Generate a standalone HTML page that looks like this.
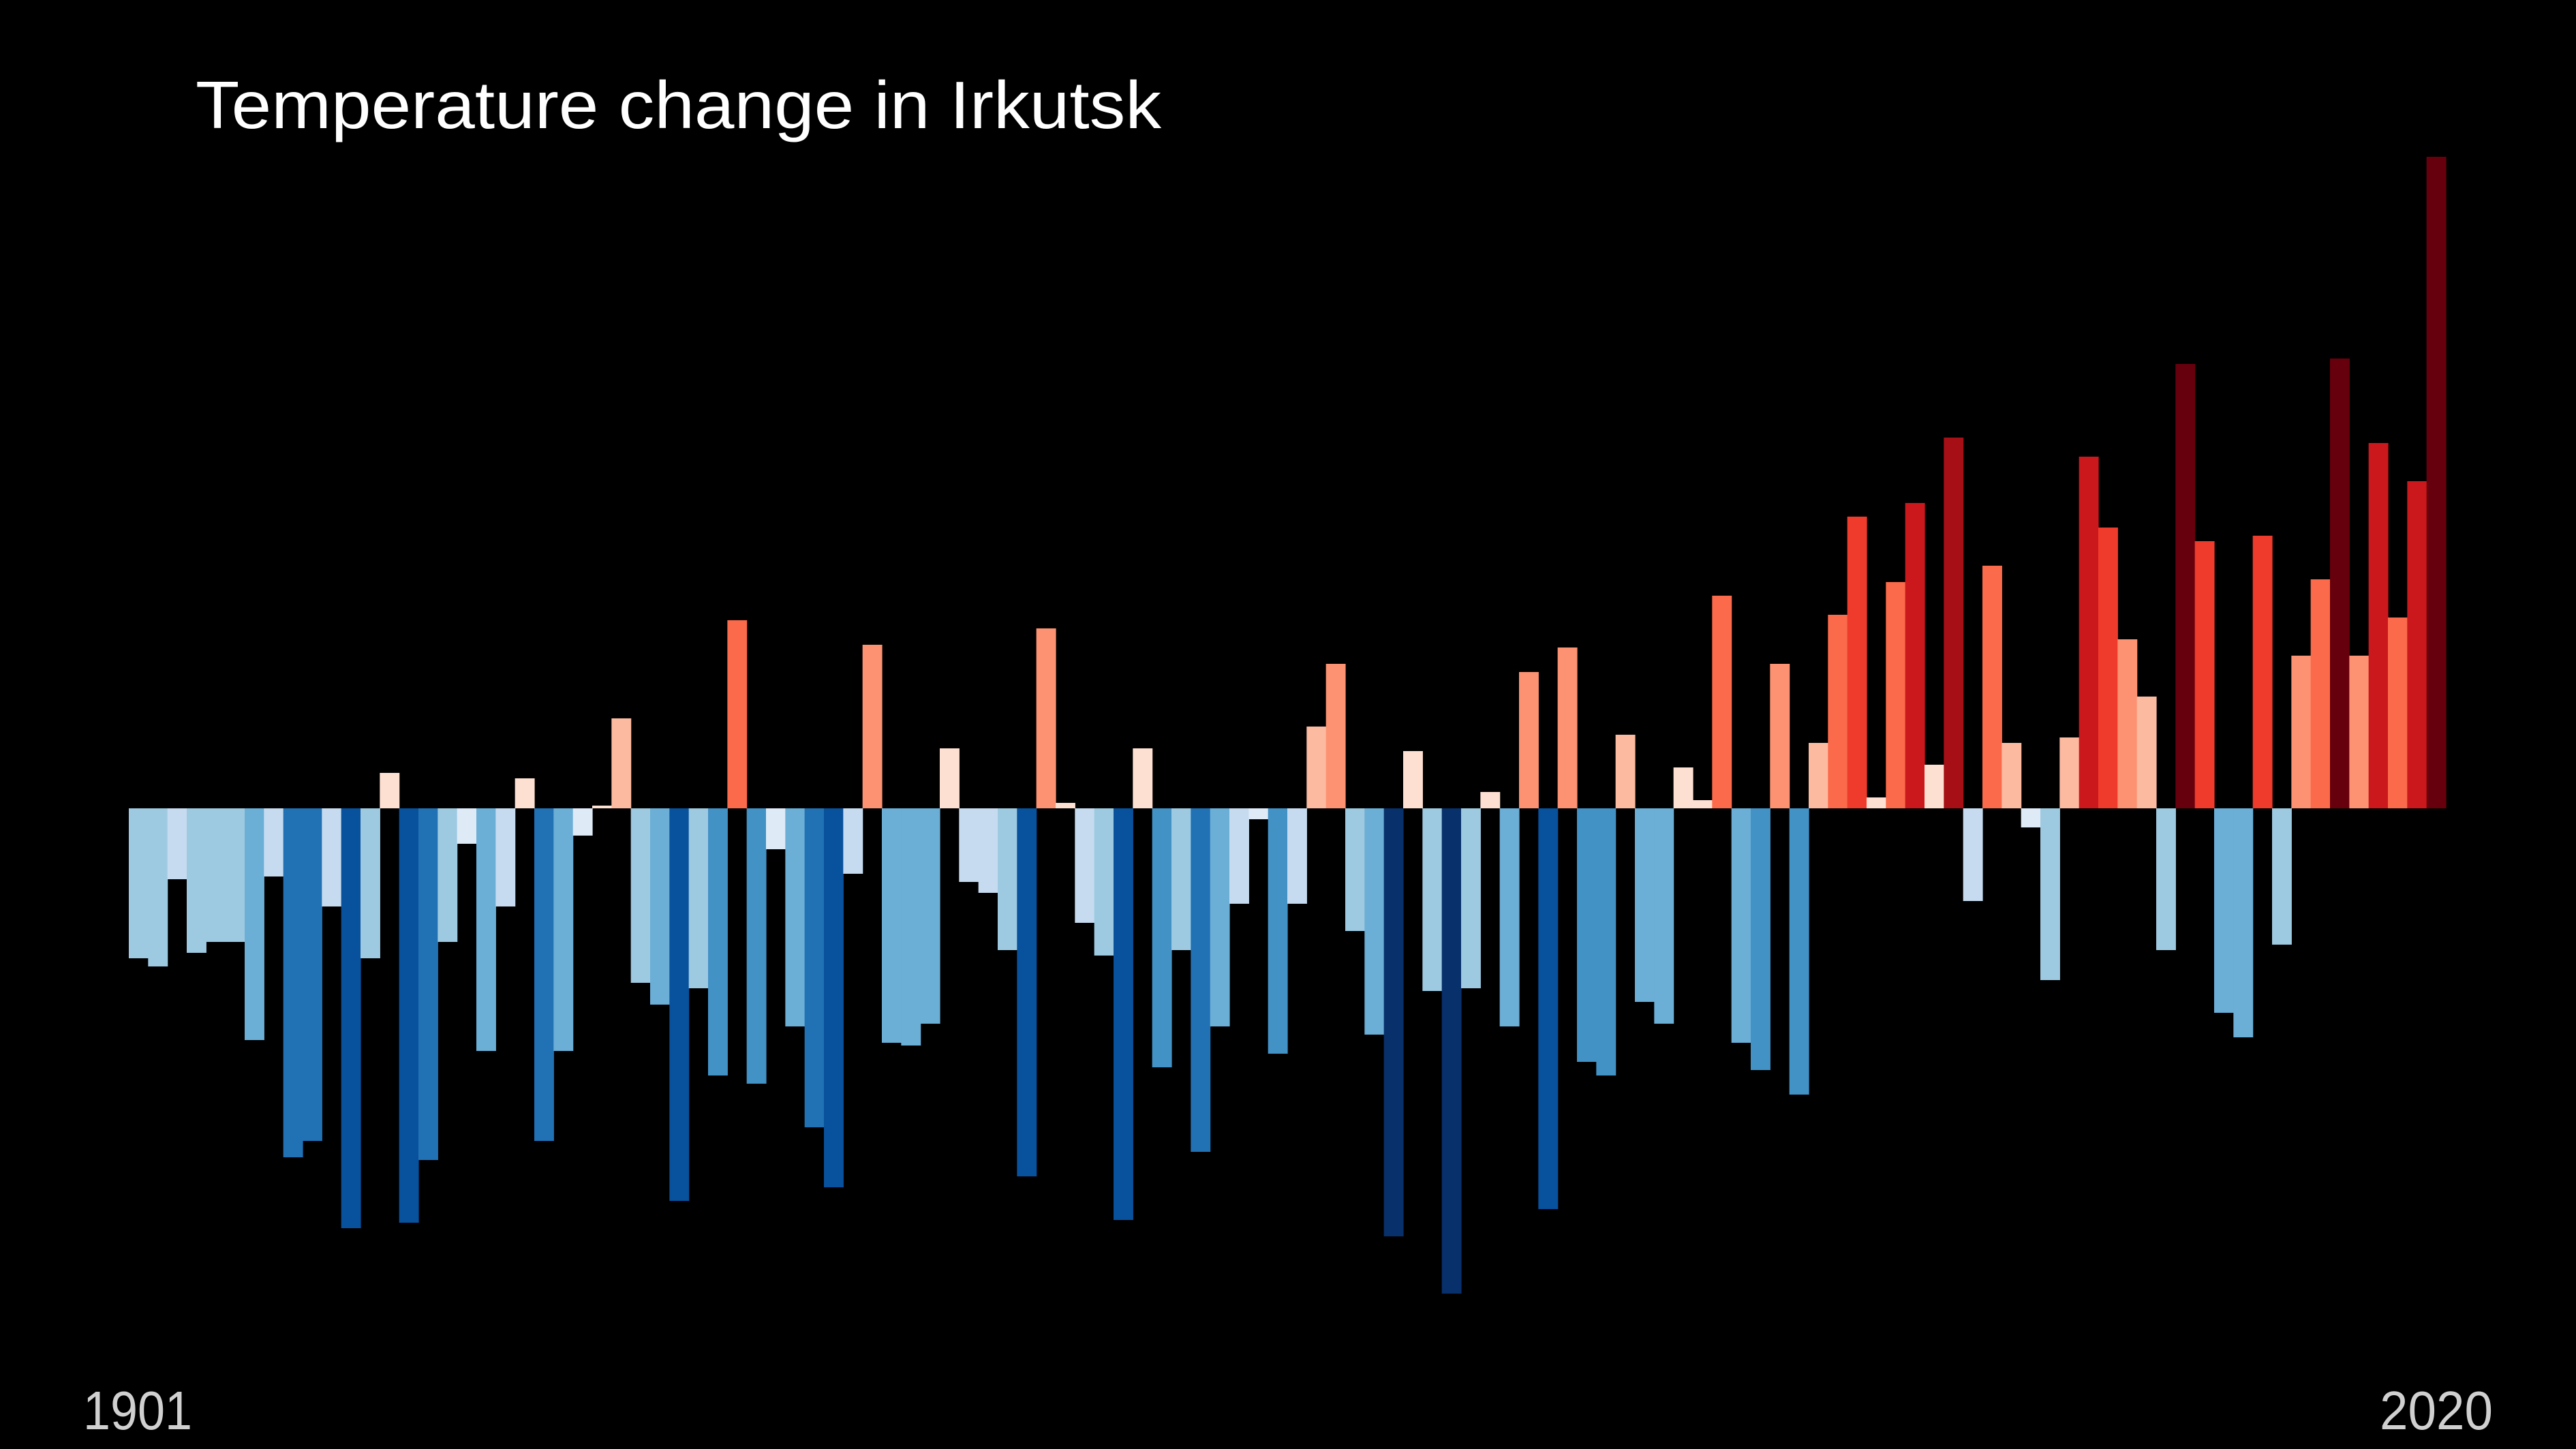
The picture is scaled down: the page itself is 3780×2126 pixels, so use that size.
<!DOCTYPE html>
<html>
<head>
<meta charset="utf-8">
<style>
html,body{margin:0;padding:0;background:#000;}
svg{display:block;}
text{font-family:"Liberation Sans",Arial,sans-serif;}
</style>
</head>
<body>
<svg id="chart" width="3780" height="2126" viewBox="0 0 3780 2126" xmlns="http://www.w3.org/2000/svg">
  <rect x="0" y="0" width="3780" height="2126" fill="#000"/>
  <text x="287" y="188" font-size="98" fill="#ffffff" textLength="1417" lengthAdjust="spacingAndGlyphs">Temperature change in Irkutsk</text>
  <g id="bars"></g>
  <text id="startLabel" x="122" y="2097" font-size="80" fill="#d0d0d0" textLength="160" lengthAdjust="spacingAndGlyphs"></text>
  <text id="endLabel" x="3492" y="2097" font-size="80" fill="#d0d0d0" textLength="166" lengthAdjust="spacingAndGlyphs"></text>
</svg>
<script>
var startYear = 1901;
var endYear = 2020;
var anomalies = [
-0.55,-0.58,-0.26,-0.53,-0.49,-0.49,-0.85,-0.25,-1.28,-1.22,
-0.36,-1.54,-0.55,0.13,-1.52,-1.29,-0.49,-0.13,-0.89,-0.36,
0.11,-1.22,-0.89,-0.10,0.01,0.33,-0.64,-0.72,-1.44,-0.66,
-0.98,0.69,-1.01,-0.15,-0.80,-1.17,-1.39,-0.24,0.60,-0.86,
-0.87,-0.79,0.22,-0.27,-0.31,-0.52,-1.35,0.66,0.02,-0.42,
-0.54,-1.51,0.22,-0.95,-0.52,-1.26,-0.80,-0.35,-0.04,-0.90,
-0.35,0.30,0.53,-0.45,-0.83,-1.57,0.21,-0.67,-1.78,-0.66,
0.06,-0.80,0.50,-1.47,0.59,-0.93,-0.98,0.27,-0.71,-0.79,
0.15,0.03,0.78,-0.86,-0.96,0.53,-1.05,0.24,0.71,1.07,
0.04,0.83,1.12,0.16,1.36,-0.34,0.89,0.24,-0.07,-0.63,
0.26,1.29,1.03,0.62,0.41,-0.52,1.63,0.98,-0.75,-0.84,
1.00,-0.50,0.56,0.84,1.65,0.56,1.34,0.70,1.20,2.39
];
var warmColors = ["#fee0d2","#fcbba1","#fc9272","#fb6a4a","#ef3b2c","#cb181d","#a50f15","#67000d"];
var coolColors = ["#deebf7","#c6dbef","#9ecae1","#6baed6","#4292c6","#2171b5","#08519c","#08306b"];

var plotLeft = 189, plotRight = 3589, baselineY = 1186, pxPerUnit = 400;
function xScale(i){ return plotLeft + i * (plotRight - plotLeft) / anomalies.length; }
function yScale(v){ return baselineY - v * pxPerUnit; }
function colorFor(v){
  var idx = Math.min(7, Math.floor(Math.abs(v) / 0.224));
  return v >= 0 ? warmColors[idx] : coolColors[idx];
}
var g = document.getElementById('bars');
var ns = "http://www.w3.org/2000/svg";
var bw = (plotRight - plotLeft) / anomalies.length;
for (var i = 0; i < anomalies.length; i++) {
  var v = anomalies[i];
  var y0 = yScale(0), y1 = yScale(v);
  var r = document.createElementNS(ns, 'rect');
  r.setAttribute('x', xScale(i).toFixed(2));
  r.setAttribute('y', Math.min(y0, y1).toFixed(2));
  r.setAttribute('width', (bw + 0.6).toFixed(2));
  r.setAttribute('height', Math.max(1, Math.abs(y1 - y0)).toFixed(2));
  r.setAttribute('fill', colorFor(v));
  
  
  g.appendChild(r);
}
document.getElementById('startLabel').textContent = String(startYear);
document.getElementById('endLabel').textContent = String(endYear);
</script>
</body>
</html>
